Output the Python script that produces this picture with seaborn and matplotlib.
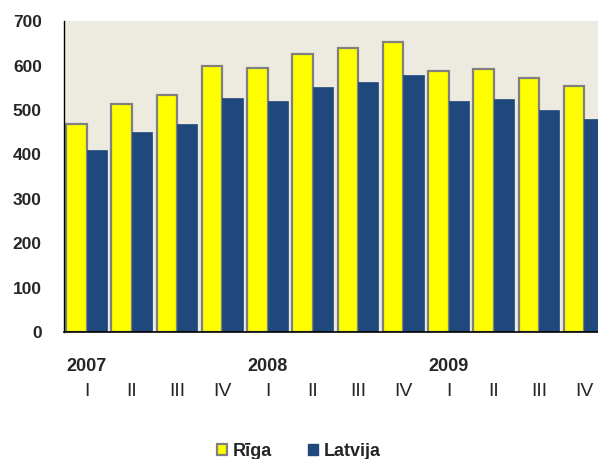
import numpy as np
import pandas as pd
import matplotlib
matplotlib.use("Agg")
import matplotlib.pyplot as plt
from matplotlib.patches import Patch
import seaborn as sns

periods = ["2007 I", "2007 II", "2007 III", "2007 IV",
           "2008 I", "2008 II", "2008 III", "2008 IV",
           "2009 I", "2009 II", "2009 III", "2009 IV"]
quarters = ["I", "II", "III", "IV"] * 3
years = ["2007", "2008", "2009"]
riga = [468, 513, 534, 600, 595, 627, 639, 652, 588, 593, 573, 555]
latvija = [410, 451, 469, 528, 521, 551, 563, 579, 519, 524, 500, 480]

df = pd.DataFrame({
    "period": periods * 2,
    "value": riga + latvija,
    "series": ["Rīga"] * 12 + ["Latvija"] * 12,
})

sns.set_style("white")
plt.rcParams["font.family"] = ["Liberation Sans", "DejaVu Sans"]

yellow = "#FFFF00"
blue = "#1F497D"
edge = "#808080"

fig = plt.figure(figsize=(5.98, 4.59), dpi=100)
ax = fig.add_axes([0.107, 0.2767, 0.908, 0.6773])
ax.set_facecolor("#EDEAE0")

sns.barplot(data=df, x="period", y="value", hue="series", order=periods,
            hue_order=["Rīga", "Latvija"], palette=[yellow, blue],
            width=0.9, saturation=1, legend=False, ax=ax)

# Rīga bars get a grey outline
for i, p in enumerate(ax.patches):
    if i < 12:
        p.set_edgecolor(edge)
        p.set_linewidth(1.6)
    else:
        p.set_edgecolor(blue)
        p.set_linewidth(0.5)

ax.set_xlim(-0.5, 11.5)
ax.set_ylim(0, 700)
ax.set_yticks(np.arange(0, 701, 100))
ax.tick_params(axis="y", labelsize=12.5, length=5, width=1, color="black", direction="out", pad=11)
for t in ax.get_yticklabels():
    t.set_fontweight("bold")

ax.set_xticks(range(12))
ax.set_xticklabels(quarters, fontsize=14)
ax.tick_params(axis="x", length=0, pad=37)
ax.set_xticks(np.arange(-0.5, 12, 1), minor=True)
ax.tick_params(axis="x", which="minor", length=5, width=1, color=edge, direction="out")

for k, y in enumerate(years):
    ax.text(4 * k, -0.11, y, transform=ax.get_xaxis_transform(),
            ha="center", va="center", fontsize=13, fontweight="bold")

ax.set_xlabel("")
ax.set_ylabel("")
for s in ["top", "right"]:
    ax.spines[s].set_visible(False)
ax.spines["left"].set_color("black")
ax.spines["bottom"].set_color("black")
ax.spines["left"].set_linewidth(1)
ax.spines["bottom"].set_linewidth(1.2)

handles = [Patch(facecolor=yellow, edgecolor=edge, linewidth=1.6, label="Rīga"),
           Patch(facecolor=blue, edgecolor=blue, label="Latvija")]
fig.legend(handles=handles, loc="center", bbox_to_anchor=(0.5, 0.017), ncol=2,
           frameon=False, handlelength=0.55, handleheight=0.55, handletextpad=0.3,
           columnspacing=2.0, prop={"weight": "bold", "size": 13})

fig.savefig("out.png", dpi=100)
